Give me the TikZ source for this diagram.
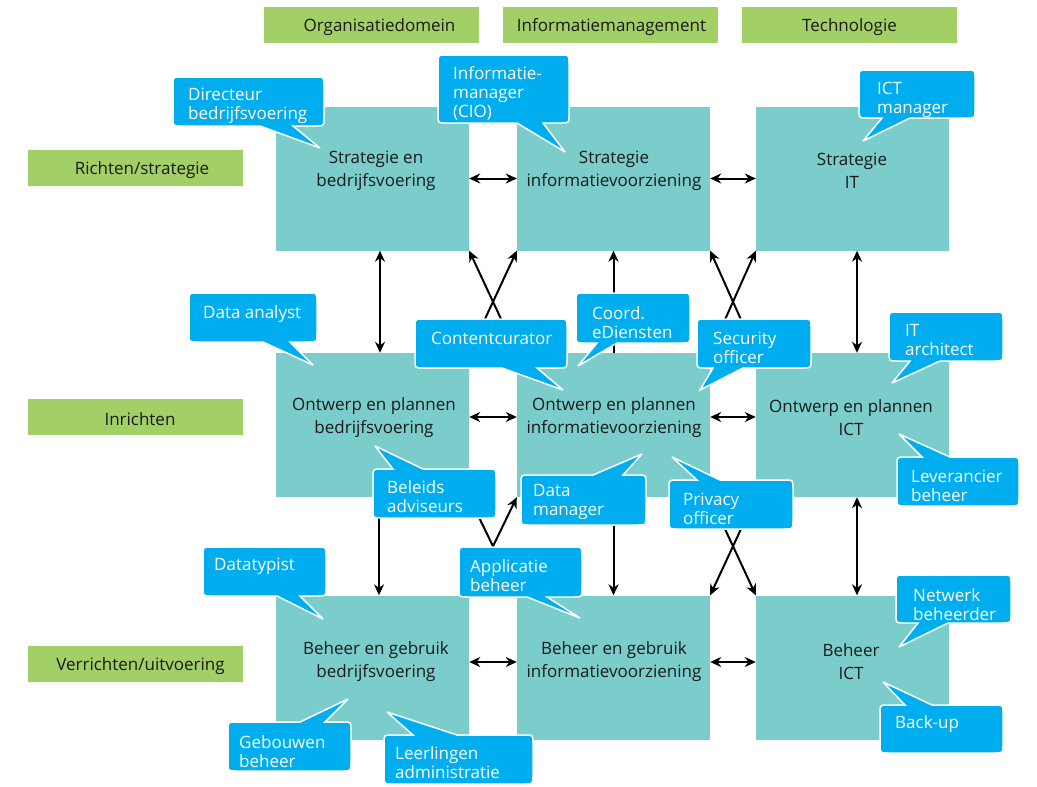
\documentclass[tikz,border=0pt]{standalone}
\usepackage{fontspec}
\setmainfont{Open Sans}
\usetikzlibrary{arrows.meta}
\definecolor{hdrgreen}{HTML}{A2CF66}
\definecolor{boxteal}{HTML}{7ACDCB}
\definecolor{calcyan}{HTML}{00AEEF}
\definecolor{txtblack}{HTML}{1A1A1A}
\newcommand{\calloutBot}[8]{%
\path[callout] ({#1+8},#2) -- ({#3-8},#2) .. controls (#3,#2) .. (#3,{#2+8}) -- (#3,{#4-8}) .. controls (#3,#4) .. ({#3-8},#4) -- (#6,#4) -- (#7,#8) -- (#5,#4) -- ({#1+8},#4) .. controls (#1,#4) .. (#1,{#4-8}) -- (#1,{#2+8}) .. controls (#1,#2) .. ({#1+8},#2) -- cycle;}
\newcommand{\calloutTop}[8]{%
\path[callout] ({#1+8},#2) -- (#5,#2) -- (#7,#8) -- (#6,#2) -- ({#3-8},#2) .. controls (#3,#2) .. (#3,{#2+8}) -- (#3,{#4-8}) .. controls (#3,#4) .. ({#3-8},#4) -- ({#1+8},#4) .. controls (#1,#4) .. (#1,{#4-8}) -- (#1,{#2+8}) .. controls (#1,#2) .. ({#1+8},#2) -- cycle;}
\begin{document}
\begin{tikzpicture}[x=1pt,y=-1pt,
  hdr/.style={fill=hdrgreen,draw=none,minimum width=215pt,minimum height=36pt,inner sep=0pt},
  htext/.style={text=txtblack,font=\fontsize{17}{23}\selectfont,inner sep=0pt,yshift=-2pt},
  tbox/.style={fill=boxteal,draw=none,minimum width=193pt,minimum height=144pt,inner sep=0pt},
  btext/.style={text=txtblack,align=center,font=\fontsize{17}{23}\selectfont,inner sep=0pt,yshift=-2pt},
  callout/.style={fill=calcyan,draw=white,line width=1.5pt,line join=miter,miter limit=4},
  ctext/.style={text=white,anchor=west,align=left,font=\fontsize{17}{19}\selectfont,inner sep=0pt,yshift=-2pt},
  arr/.style={line width=2pt,-{Stealth[length=11pt,width=10pt]}},
  darr/.style={line width=2pt,{Stealth[length=11pt,width=10pt]}-{Stealth[length=11pt,width=10pt]}}]
\useasboundingbox (0,0) rectangle (1037,787);
\fill[white] (0,0) rectangle (1037,787);

% column headers
\node[hdr] (h1) at (371.5,24.5) {};
\node[hdr] (h2) at (610.5,24.5) {};
\node[hdr] (h3) at (849.5,24.5) {};
\node[htext] (ht1) at (379.5,25) {Organisatiedomein};
\node[htext] (ht2) at (611.5,25) {Informatiemanagement};
\node[htext] (ht3) at (849.5,25) {Technologie};

% row headers
\node[hdr] (r1) at (135,167.5) {};
\node[hdr] (r2) at (135,416.5) {};
\node[hdr] (r3) at (135,663.5) {};
\node[htext] (rt1) at (142,168) {Richten/strategie};
\node[htext] (rt2) at (140,417) {Inrichten};
\node[htext] (rt3) at (140.5,664) {Verrichten/uitvoering};

% main boxes
\node[tbox] (b11) at (372.5,178.5) {};
\node[tbox] (b12) at (613.5,178.5) {};
\node[tbox] (b13) at (852.5,178.5) {};
\node[tbox] (b21) at (372.5,425) {};
\node[tbox] (b22) at (613.5,425) {};
\node[tbox] (b23) at (852.5,425) {};
\node[tbox] (b31) at (372.5,667.5) {};
\node[tbox] (b32) at (613.5,667.5) {};
\node[tbox] (b33) at (852.5,667.5) {};

\node[btext] (t11) at (376,168.5) {Strategie en\\bedrijfsvoering};
\node[btext] (t12) at (614,168.5) {Strategie\\informatievoorziening};
\node[btext] (t13) at (852,168.5) {Strategie\\IT};
\node[btext] (t21) at (374,416) {Ontwerp en plannen\\bedrijfsvoering};
\node[btext] (t22) at (614,416) {Ontwerp en plannen\\informatievoorziening};
\node[btext] (t23) at (851,416) {Ontwerp en plannen\\ICT};
\node[btext] (t31) at (376,660) {Beheer en gebruik\\bedrijfsvoering};
\node[btext] (t32) at (614,660) {Beheer en gebruik\\informatievoorziening};
\node[btext] (t33) at (851,659.5) {Beheer\\ICT};

% horizontal arrows
\draw[darr] (b11.east) -- (b12.west);
\draw[darr] (b12.east) -- (b13.west);
\draw[darr] ([yshift=8pt]b21.east) -- ([yshift=8pt]b22.west);
\draw[darr] ([yshift=8pt]b22.east) -- ([yshift=8pt]b23.west);
\draw[darr] ([yshift=5.5pt]b31.east) -- ([yshift=5.5pt]b32.west);
\draw[darr] ([yshift=5.5pt]b32.east) -- ([yshift=5.5pt]b33.west);

% vertical arrows rows 1-2
\draw[darr] ([xshift=7.5pt]b11.south) -- ([xshift=7.5pt]b21.north);
\draw[arr] (b22.north) -- (b12.south);
\draw[darr] ([xshift=4.5pt]b13.south) -- ([xshift=4.5pt]b23.north);
% crossing arrows rows 1-2
\draw[arr] (b21.north east) -- (b12.south west);
\draw[arr] (b22.north west) -- (b11.south east);
\draw[arr] (b22.north east) -- (b13.south west);
\draw[arr] (b23.north west) -- (b12.south east);

% vertical arrows rows 2-3
\draw[arr] ([xshift=6.5pt]b21.south) -- ([xshift=6.5pt]b31.north);
\draw[arr] (b22.south) -- (b32.north);
\draw[darr] ([xshift=4.5pt]b23.south) -- ([xshift=4.5pt]b33.north);
% crossing arrows rows 2-3
\draw[arr] (b21.south east) -- (b32.north west);
\draw[arr] (b31.north east) -- (b22.south west);
\draw[arr] (b23.south west) -- (b32.north east);
\draw[arr] (b22.south east) -- (b33.north west);

% callouts
\calloutBot{173}{77}{324}{126}{260}{293}{320}{148}
\node[ctext] (cDir) at (188,103.5) {Directeur\\bedrijfsvoering};
\calloutBot{438}{55}{569}{123}{517}{543}{565}{152}
\node[ctext] (cCIO) at (453,91) {Informatie-\\manager\\(CIO)};
\calloutBot{859}{70}{975}{118}{882}{910}{863}{141}
\node[ctext] (cICT) at (877,97.5) {ICT\\manager};
\calloutBot{189}{293}{317}{342}{263}{290}{313}{365}
\node[ctext] (cDA) at (203,312) {Data analyst};
\calloutBot{415}{319}{567}{368}{502}{537}{563}{390}
\node[ctext] (cCC) at (431,336) {Contentcurator};
\calloutBot{576}{293}{690}{343}{597}{617}{578}{366}
\node[ctext] (cCE) at (592,320.5) {Coord.\\eDiensten};
\calloutBot{697}{319}{811}{368}{713}{743}{700}{390}
\node[ctext] (cSO) at (713,346) {Security\\officer};
\calloutBot{889}{312}{1003}{361}{910}{940}{892}{383}
\node[ctext] (cITA) at (905,338.5) {IT\\architect};
\calloutTop{373}{469}{496}{518}{393}{423}{375}{446}
\node[ctext] (cBA) at (387,495) {Beleids\\adviseurs};
\calloutTop{521}{475}{646}{525}{593}{623}{642}{454}
\node[ctext] (cDM) at (533,500) {Data\\manager};
\calloutTop{669}{480}{793}{529}{697}{720}{672}{457}
\node[ctext] (cPO) at (683,506.5) {Privacy\\officer};
\calloutTop{897}{457}{1019}{506}{922}{950}{899}{434}
\node[ctext] (cLB) at (911,483.5) {Leverancier\\beheer};
\calloutBot{203}{547}{326}{596}{277}{300}{323}{619}
\node[ctext] (cDT) at (214,564) {Datatypist};
\calloutBot{459}{547}{582}{597}{527}{547}{580}{618}
\node[ctext] (cAB) at (470,573.5) {Applicatie\\beheer};
\calloutBot{896}{575}{1011}{623}{918}{948}{899}{647}
\node[ctext] (cNB) at (913,602.5) {Netwerk\\beheerder};
\calloutTop{228}{722}{351}{771}{300}{325}{348}{699}
\node[ctext] (cGB) at (239,750) {Gebouwen\\beheer};
\calloutTop{384}{735}{533}{784}{413}{457}{387}{712}
\node[ctext] (cLA) at (395,761) {Leerlingen\\administratie};
\calloutTop{880}{705}{1003}{753}{905}{932}{883}{682}
\node[ctext] (cBU) at (895,722) {Back-up};
\end{tikzpicture}
\end{document}
